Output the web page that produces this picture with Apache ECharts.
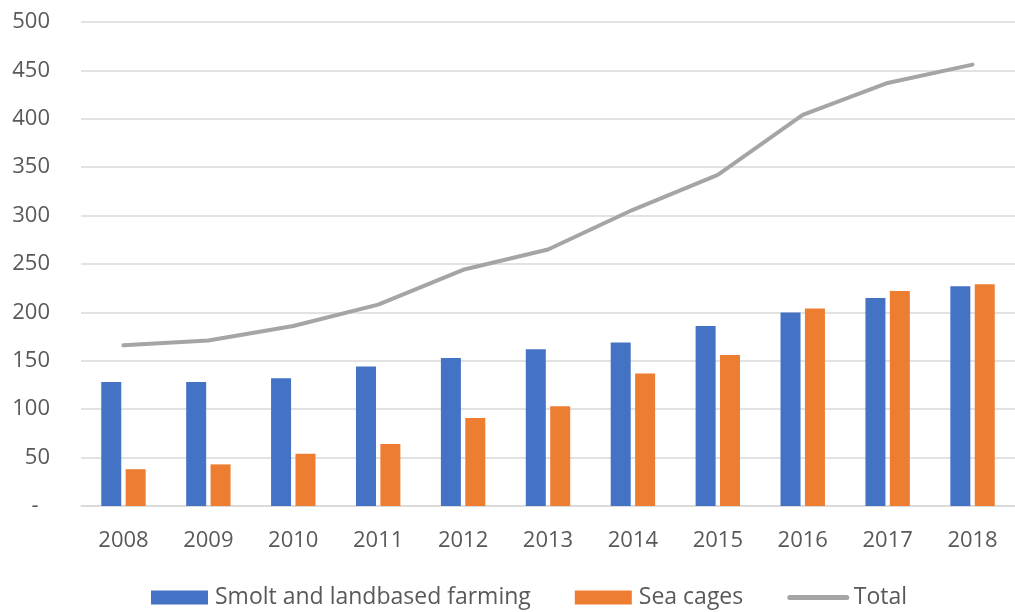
<!DOCTYPE html>
<html>
<head>
<meta charset="utf-8">
<script src="https://cdn.jsdelivr.net/npm/echarts@6/dist/echarts.min.js"></script>
<style>
  html, body { margin: 0; padding: 0; background: #ffffff; }
  #chart { width: 1015px; height: 612px; }
</style>
</head>
<body>
<div id="chart"></div>
<script>
// Production by segment, 2008–2018
const years = ['2008', '2009', '2010', '2011', '2012', '2013', '2014', '2015', '2016', '2017', '2018'];
const smoltLandbased = [128, 128, 132, 144, 153, 162, 169, 186, 200, 215, 227];
const seaCages = [38, 43, 54, 64, 91, 103, 137, 156, 204, 222, 229];
const total = [166, 171, 186, 208, 244, 265, 306, 342, 404, 437, 456];
const yTicks = [0, 50, 100, 150, 200, 250, 300, 350, 400, 450, 500];

const textColor = '#595959';
const fontFamily = '"Open Sans", "Noto Sans", sans-serif';
const fontSize = 22;

const chart = echarts.init(document.getElementById('chart'), null, { renderer: 'canvas' });

chart.setOption({
  animation: false,
  backgroundColor: '#ffffff',
  grid: { left: 81, top: 22, width: 944, height: 484, containLabel: false },
  legend: {
    left: 146,
    bottom: -2,
    itemWidth: 57,
    itemHeight: 14,
    itemGap: 44,
    textStyle: { color: textColor, fontFamily: fontFamily, fontSize: 23, padding: [0, 0, 0, 2] },
    data: [
      { name: 'Smolt and landbased farming', icon: 'rect' },
      { name: 'Sea cages', icon: 'rect' },
      { name: 'Total', itemStyle: { opacity: 0 }, lineStyle: { width: 5, color: '#a5a5a5', cap: 'round' } }
    ]
  },
  xAxis: {
    type: 'category',
    data: years,
    axisTick: { show: false },
    axisLine: { show: true, lineStyle: { color: '#d9d9d9', width: 1.5 } },
    axisLabel: { color: textColor, fontFamily: fontFamily, fontSize: fontSize, margin: 24 }
  },
  yAxis: {
    type: 'value',
    min: yTicks[0],
    max: yTicks[yTicks.length - 1],
    interval: yTicks[1] - yTicks[0],
    axisLine: { show: false },
    axisTick: { show: false },
    splitLine: { lineStyle: { color: '#d9d9d9', width: 1.5 } },
    axisLabel: {
      color: textColor,
      fontFamily: fontFamily,
      fontSize: fontSize,
      margin: 31,
      formatter: function (v) { return v === 0 ? '-  ' : String(v); }
    }
  },
  series: [
    {
      name: 'Smolt and landbased farming',
      type: 'bar',
      data: smoltLandbased,
      barWidth: 20,
      barGap: '22%',
      itemStyle: { color: '#4472c4' }
    },
    {
      name: 'Sea cages',
      type: 'bar',
      data: seaCages,
      barWidth: 20,
      barGap: '22%',
      itemStyle: { color: '#ed7d31' }
    },
    {
      name: 'Total',
      type: 'line',
      data: total,
      symbol: 'none',
      lineStyle: { color: '#a5a5a5', width: 4, cap: 'round', join: 'round' },
      itemStyle: { color: '#a5a5a5' }
    }
  ]
});
</script>
</body>
</html>
